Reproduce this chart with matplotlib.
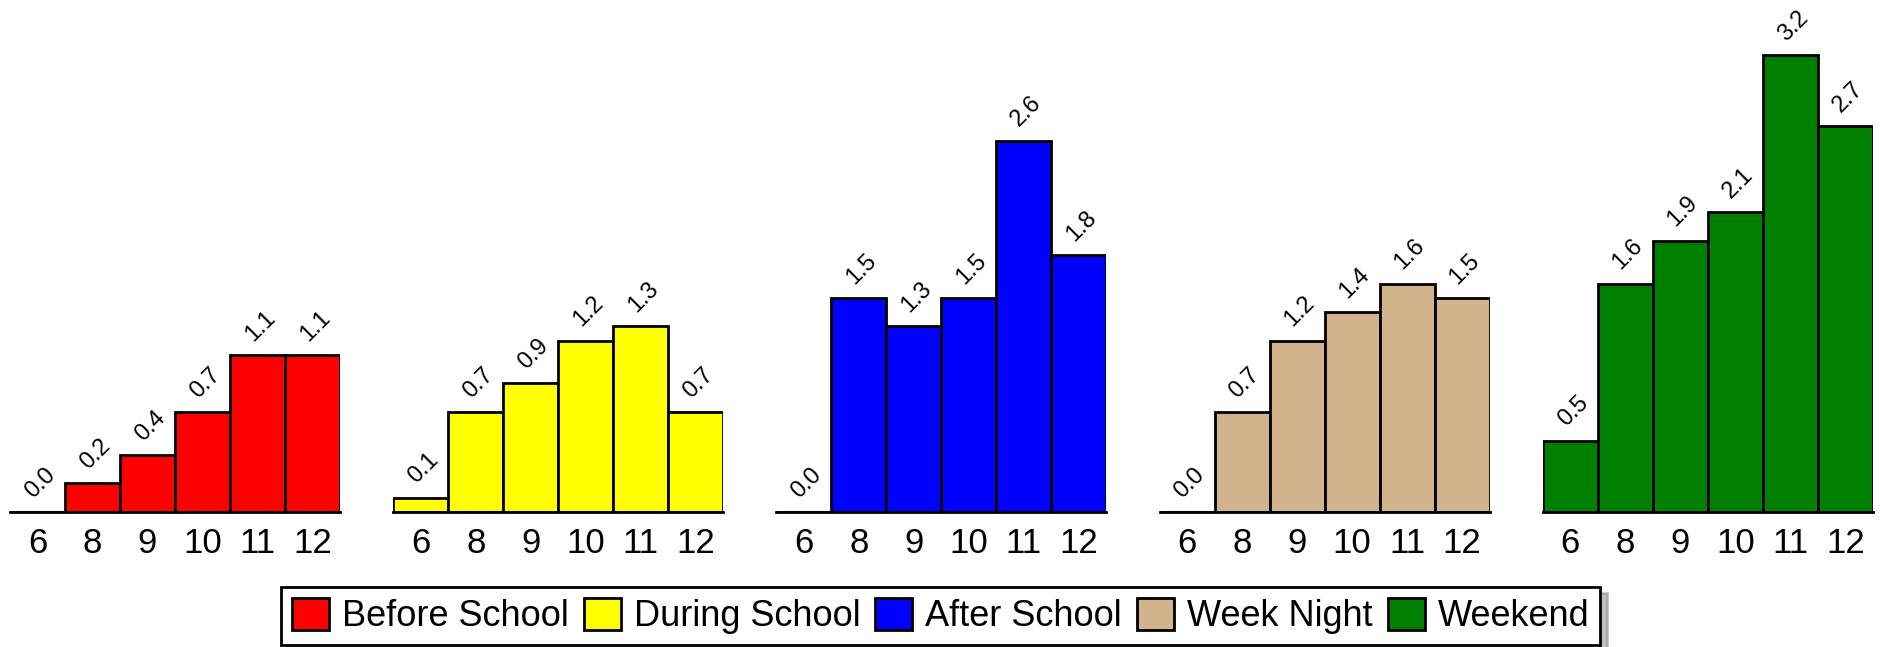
import matplotlib
matplotlib.use("Agg")
import matplotlib.pyplot as plt
from matplotlib.patches import Patch

grades = ["6", "8", "9", "10", "11", "12"]
series_names = ["Before School", "During School", "After School", "Week Night", "Weekend"]
before_school = [0.0, 0.2, 0.4, 0.7, 1.1, 1.1]
during_school = [0.1, 0.7, 0.9, 1.2, 1.3, 0.7]
after_school = [0.0, 1.5, 1.3, 1.5, 2.6, 1.8]
week_night = [0.0, 0.7, 1.2, 1.4, 1.6, 1.5]
weekend = [0.5, 1.6, 1.9, 2.1, 3.2, 2.7]
series_values = [before_school, during_school, after_school, week_night, weekend]
colors = ["#FF0000", "#FFFF00", "#0000FF", "#D2B48C", "#008000"]

plt.rcParams["font.family"] = ["Liberation Sans", "DejaVu Sans"]

W, H, DPI = 1881, 647, 100
fig = plt.figure(figsize=(W / DPI, H / DPI), dpi=DPI)

px_per_unit = 142.8
baseline_px = 512
panel_w = 330
x0 = 10
step = 383.2
lw = 2.0

for i, (vals, col) in enumerate(zip(series_values, colors)):
    left = (x0 + step * i) / W
    ax = fig.add_axes([left, (H - baseline_px) / H, panel_w / W, baseline_px / H])
    xs = list(range(len(grades)))
    ax.bar(xs, vals, width=1.0, color=col, edgecolor="black", linewidth=lw)
    ax.set_xlim(-0.5, len(grades) - 0.5)
    ax.set_ylim(0, baseline_px / px_per_unit)
    for s in ["top", "right", "left"]:
        ax.spines[s].set_visible(False)
    ax.spines["bottom"].set_linewidth(lw)
    ax.set_yticks([])
    ax.set_xticks(xs)
    ax.set_xticklabels(grades, fontsize=25)
    ax.tick_params(axis="x", length=0, pad=11)
    ax.patch.set_alpha(0)
    for x, v in zip(xs, vals):
        ax.annotate(f"{v:.1f}", (x, v), xytext=(2, 7), textcoords="offset points",
                    ha="center", va="bottom", rotation=45, fontsize=17)

lsize = 26
em = lsize * DPI / 72
handles = [Patch(facecolor=c, edgecolor="black", linewidth=lw) for c in colors]
leg = fig.legend(handles, series_names, loc="lower center", bbox_to_anchor=(0.5, 0.0),
                 ncol=5, prop={"size": lsize},
                 handlelength=37 / em, handleheight=35 / em, handletextpad=13 / em,
                 columnspacing=15 / em, borderpad=0.3, borderaxespad=0.05,
                 fancybox=False, edgecolor="black", framealpha=1,
                 shadow={"ox": 5, "oy": -4, "color": "0.5"})
leg.get_frame().set_linewidth(lw)

fig.savefig("out.png", dpi=DPI)
